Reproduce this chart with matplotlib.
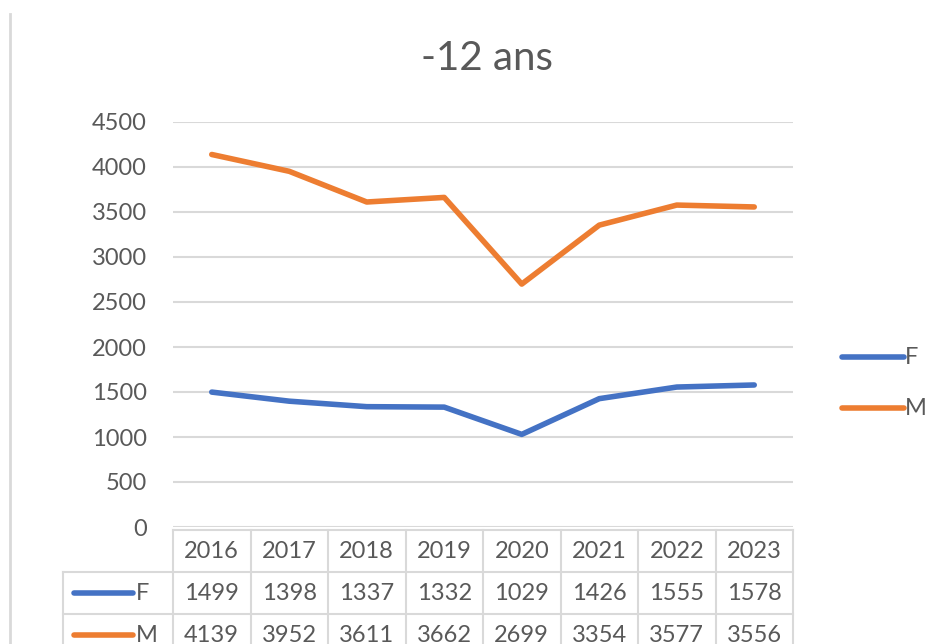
import matplotlib.pyplot as plt
from matplotlib.lines import Line2D
import numpy as np

years = ["2016", "2017", "2018", "2019", "2020", "2021", "2022", "2023"]
f_vals = [1499, 1398, 1337, 1332, 1029, 1426, 1555, 1578]
m_vals = [4139, 3952, 3611, 3662, 2699, 3354, 3577, 3556]
series = [("F", f_vals, "#4472C4"), ("M", m_vals, "#ED7D31")]
yticks = [0, 500, 1000, 1500, 2000, 2500, 3000, 3500, 4000, 4500]

W, H = 942, 644
TXT = "#595959"
GRID = "#d9d9d9"
FONT = "Lato"
FS = 17

plt.rcParams["font.family"] = [FONT, "DejaVu Sans"]

fig = plt.figure(figsize=(W / 100, H / 100), dpi=100)

# plot area in pixel terms
x0, x1 = 173, 793
ytop, ybot = 122, 527
ax = fig.add_axes([x0 / W, (H - ybot) / H, (x1 - x0) / W, (ybot - ytop) / H])
n = len(years)
xs = np.arange(n) + 0.5
for name, vals, col in series:
    ax.plot(xs, vals, color=col, lw=4, solid_capstyle="round")
ax.set_xlim(0, n)
ax.set_ylim(0, 4500)
ax.set_yticks(yticks)
ax.set_yticklabels([str(v) for v in yticks], fontsize=FS, color=TXT)
ax.tick_params(axis="y", length=0, pad=19)
ax.set_xticks([])
ax.grid(axis="y", color=GRID, lw=1.5)
ax.set_axisbelow(True)
for s in ax.spines.values():
    s.set_visible(False)

# overlay for table, legend, title
ov = fig.add_axes([0, 0, 1, 1], zorder=-1)
ov.set_xlim(0, W)
ov.set_ylim(H, 0)
ov.axis("off")

ov.add_line(Line2D([10, 10], [14, H], color=GRID, lw=2))
ov.text(487, 58, "-12 ans", fontsize=29, color=TXT, ha="center", va="center")

edges = np.linspace(x0, x1, n + 1)
rows = [530, 572, 614, 656]
lab_x = 63
# header row
ov.add_line(Line2D([x0, x1], [rows[0], rows[0]], color=GRID, lw=1.5))
for e in edges:
    ov.add_line(Line2D([e, e], [rows[0], H], color=GRID, lw=1.5))
ov.add_line(Line2D([lab_x, lab_x], [rows[1], H], color=GRID, lw=1.5))
for r in rows[1:]:
    ov.add_line(Line2D([lab_x, x1], [r, r], color=GRID, lw=1.5))

centers = (edges[:-1] + edges[1:]) / 2
for c, yr in zip(centers, years):
    ov.text(c, (rows[0] + rows[1]) / 2, yr, fontsize=FS, color=TXT,
            ha="center", va="center")
for i, (name, vals, col) in enumerate(series):
    yc = (rows[i + 1] + rows[i + 2]) / 2
    ov.add_line(Line2D([74, 133], [yc, yc], color=col, lw=4,
                       solid_capstyle="round"))
    ov.text(136, yc, name, fontsize=FS, color=TXT, ha="left", va="center")
    for c, v in zip(centers, vals):
        ov.text(c, yc, str(v), fontsize=FS, color=TXT, ha="center", va="center")

# legend on the right
for i, (name, vals, col) in enumerate(series):
    yl = 357 + i * 51
    ov.add_line(Line2D([842, 904], [yl, yl], color=col, lw=4,
                       solid_capstyle="round"))
    ov.text(905, yl, name, fontsize=FS, color=TXT, ha="left", va="center")

fig.savefig("out.png", dpi=100)
